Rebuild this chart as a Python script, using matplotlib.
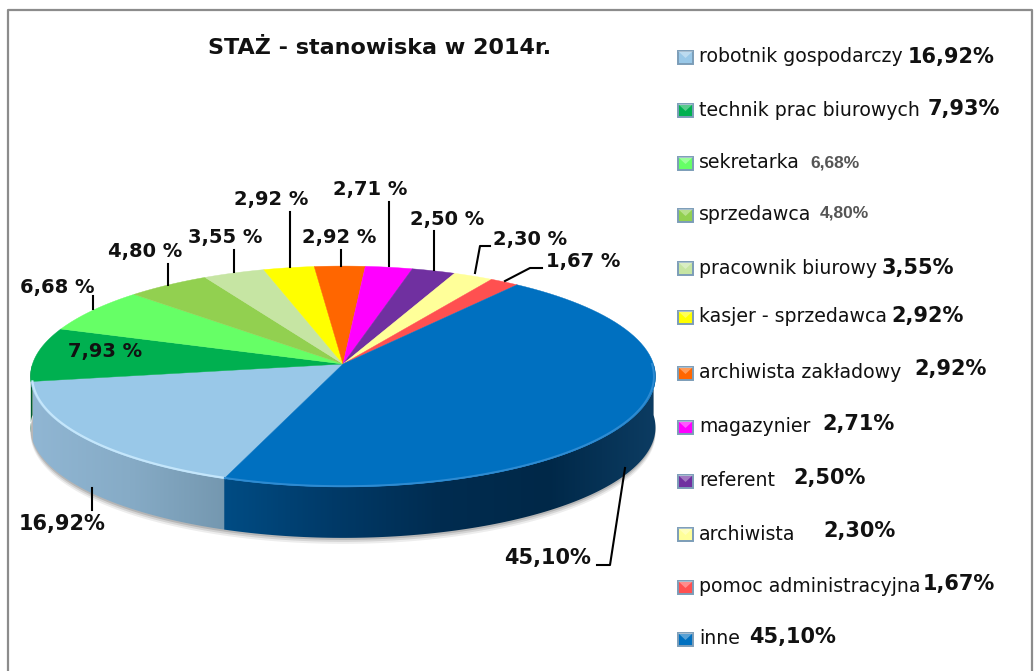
import numpy as np
import matplotlib
matplotlib.use('Agg')
import matplotlib.pyplot as plt
from matplotlib.colors import LinearSegmentedColormap
from matplotlib.patches import Polygon, Rectangle

# dane z wykresu
names = ['robotnik gospodarczy', 'technik prac biurowych', 'sekretarka', 'sprzedawca',
         'pracownik biurowy', 'kasjer - sprzedawca', 'archiwista zakładowy', 'magazynier',
         'referent', 'archiwista', 'pomoc administracyjna', 'inne']
values = [16.92, 7.93, 6.68, 4.80, 3.55, 2.92, 2.92, 2.71, 2.50, 2.30, 1.67, 45.10]
legend_values = ['16,92%', '7,93%', '6,68%', '4,80%', '3,55%', '2,92%',
                 '2,92%', '2,71%', '2,50%', '2,30%', '1,67%', '45,10%']
pie_labels = ['16,92%', '7,93 %', '6,68 %', '4,80 %', '3,55 %', '2,92 %',
              '2,92 %', '2,71 %', '2,50 %', '2,30 %', '1,67 %', '45,10%']
colors = ['#99C8E8', '#00B050', '#66FF66', '#92D050', '#C6E5A3', '#FFFF00',
          '#FF6600', '#FF00FF', '#7030A0', '#FFFF99', '#FF5050', '#0070C0']

# polozenie tekstow w pikselach
legend_y = [57, 110, 163, 215, 268, 317, 373, 427, 481, 534, 587, 639]
value_x = [908, 928, 810, 820, 882, 891, 914, 822, 793, 823, 923, 749]
value_dy = [0, -1, 0, -2, 0, -1, -4, -3, -3, -3, -3, -2]
label_pos = [(62, 524), (105, 352), (57, 287), (145, 251), (225, 237), (271, 199),
             (339, 237), (370, 190), (447, 219), (530, 240), (583, 262), (548, 558)]
leaders = [[(92, 488), (92, 510)], None, [(93, 296), (93, 309)], [(168, 264), (168, 285)],
           [(234, 250), (234, 272)], [(290, 212), (290, 267)], [(341, 250), (341, 266)],
           [(389, 202), (389, 266)], [(434, 231), (434, 270)],
           [(475, 273), (480, 246), (490, 246)], [(505, 281), (530, 268), (542, 268)],
           [(625, 468), (610, 565), (597, 565)]]

CX, CY = 343, 364
RX, RY, K = 310.5, 109, 0.113
DEPTH = 51
START = 250


def rim(ang, r=1.0):
    # punkt na kole w perspektywie, kat w stopniach
    t = np.radians(ang)
    s, c = r * np.sin(t), r * np.cos(t)
    return CX + RX * c / (1 + K * s), CY - RY * s / (1 + K * s)


fig = plt.figure(figsize=(10.34, 6.71), dpi=100)
ax = fig.add_axes([0, 0, 1, 1])
ax.axis('off')

# granice kolejnych wycinkow, zgodnie z ruchem wskazowek zegara
edges = START - np.cumsum([0] + values) * 3.6

# cien pod kolem
for grow, alpha in [(6, 0.07), (4, 0.10), (2, 0.14)]:
    a = np.linspace(180, 360, 120)
    x, y = rim(a)
    ax.fill(np.r_[x, x[::-1]], np.r_[y + DEPTH + grow, y], color='black', alpha=alpha, lw=0, zorder=1)

side_cmaps = {
    0: (['#90B6D3', '#86ABC6', '#7497AF'], 33, 228, edges[1], edges[0]),
    1: (['#005C2E', '#005C2E'], 28, 38, 180, edges[1]),
    11: (['#004C84', '#003A68', '#002C50', '#002848', '#0C3C62'], 224, 656, START, 360),
}
for i, (stops, x0, x1, lo, hi) in side_cmaps.items():
    a = np.linspace(lo, hi, 120)
    x, y = rim(a)
    wall = Polygon(np.c_[np.r_[x, x[::-1]], np.r_[y, y[::-1] + DEPTH]], closed=True,
                   fc='none', ec='none', transform=ax.transData)
    ax.add_patch(wall)
    cm = LinearSegmentedColormap.from_list('side', stops)
    im = ax.imshow(np.linspace(0, 1, 256)[None, :], cmap=cm, aspect='auto', zorder=2,
                   extent=(x0, x1, 560, 360))
    im.set_clip_path(wall)

# gorna powierzchnia kola
for i, col in enumerate(colors):
    a = np.linspace(edges[i], edges[i + 1], 80)
    x, y = rim(a)
    ax.fill(np.r_[CX, x], np.r_[CY, y], color=col, lw=0.3, zorder=3)

# jasna krawedz z przodu
a = np.linspace(edges[0], edges[1], 80)
ax.plot(*rim(a, 0.995), color='#C4E6FB', lw=1.6, zorder=4)
a = np.linspace(START, 360, 120)
ax.plot(*rim(a, 0.995), color='#2E8BD2', lw=1.4, zorder=4)

# ramka wykresu
ax.plot([8, 8, 1032, 1032], [671, 10, 10, 671], color='#8C8C8C', lw=1.6, zorder=1)

ax.text(380, 48, 'STAŻ - stanowiska w 2014r.', ha='center', va='center', fontsize=16,
        fontweight='bold', color='#111111', zorder=6)

for i in range(len(values)):
    size = 15 if i in (0, 11) else 14
    ax.text(label_pos[i][0], label_pos[i][1], pie_labels[i], ha='center', va='center',
            fontsize=size, fontweight='bold', color='#111111', zorder=6)
    if leaders[i]:
        pts = np.array(leaders[i])
        ax.plot(pts[:, 0], pts[:, 1], color='black', lw=1.5, zorder=5)

    y = legend_y[i]
    ax.add_patch(Rectangle((678, y - 6), 15, 13, fc=colors[i], ec='#7C9DB8', lw=1.4, zorder=5))
    # jasny trojkat jak na znacznikach legendy
    ax.add_patch(Polygon([(678, y - 6), (693, y - 6), (685.5, y + 1)], closed=True,
                         fc='white', ec='none', alpha=0.35, zorder=5))
    ax.text(699, y, names[i], ha='left', va='center', fontsize=13.6, color='#111111', zorder=6)
    narrow = i in (2, 3)
    ax.text(value_x[i], y + value_dy[i], legend_values[i], ha='left', va='center',
            fontsize=12.5 if narrow else 15, fontweight='bold',
            family='Liberation Sans' if narrow else 'DejaVu Sans',
            color='#555555' if narrow else '#111111', zorder=6)

ax.set_xlim(0, 1034)
ax.set_ylim(671, 0)
fig.savefig('out.png', dpi=100)
